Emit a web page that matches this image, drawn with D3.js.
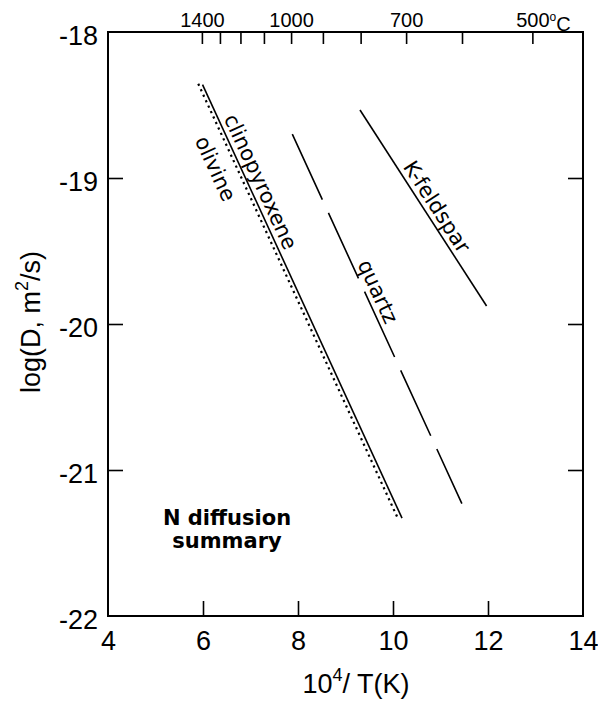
<!DOCTYPE html>
<html>
<head>
<meta charset="utf-8">
<script src="https://cdn.jsdelivr.net/npm/d3@7"></script>
<style>
  html, body { margin: 0; padding: 0; background: #fff; }
  svg { display: block; }
</style>
</head>
<body>
<svg id="chart" width="598" height="702"></svg>
<script>
// ---------------- data ----------------
const minerals   = ["clinopyroxene", "olivine", "quartz", "K-feldspar"];
const cpxX       = [5.99, 10.19];
const cpxY       = [-18.36, -21.33];
const olivineX   = [5.90, 10.10];
const olivineY   = [-18.355, -21.33];
const quartzX    = [7.88, 11.45];
const quartzY    = [-18.70, -21.23];
const kfsX       = [9.305, 11.97];
const kfsY       = [-18.534, -19.877];

const xTicks     = [4, 6, 8, 10, 12, 14];
const yTicks     = [-18, -19, -20, -21, -22];
const tempTicksC = [1400, 1300, 1200, 1100, 1000, 900, 800, 700, 600, 500];
const tempLabels = [1400, 1000, 700, 500];

// ---------------- layout ----------------
const L = 108, R = 583, T = 32, B = 616;
const x = d3.scaleLinear().domain([4, 14]).range([L, R]);
const y = d3.scaleLinear().domain([-22, -18]).range([B, T]);
const svg = d3.select("#chart");
const axisFont = "'Liberation Sans', Arial, sans-serif";
const lblFont = "'DejaVu Sans', Verdana, sans-serif";

// frame
svg.append("rect").attr("x", L).attr("y", T).attr("width", R - L).attr("height", B - T)
  .attr("fill", "none").attr("stroke", "#000").attr("stroke-width", 2);

function styleAxis(g, fs) {
  g.select(".domain").remove();
  g.selectAll(".tick line").attr("stroke", "#000").attr("stroke-width", 1.6);
  g.selectAll(".tick text").attr("font-family", axisFont).attr("font-size", fs).attr("fill", "#000");
}

// bottom axis
svg.append("g").attr("transform", `translate(0,${B})`)
  .call(d3.axisBottom(x).tickValues(xTicks).tickSize(-15).tickPadding(15).tickFormat(d => String(d)))
  .call(g => styleAxis(g, 27))
  .call(g => g.selectAll(".tick").filter(d => d === 4 || d === 14).select("line").remove());

// left axis
svg.append("g").attr("transform", `translate(${L},0)`)
  .call(d3.axisLeft(y).tickValues(yTicks).tickSize(-15).tickPadding(10).tickFormat(d => String(d)))
  .call(g => styleAxis(g, 27))
  .call(g => g.selectAll(".tick text").attr("dy", "0.45em"))
  .call(g => g.selectAll(".tick").filter(d => d === -18 || d === -22).select("line").remove());

// right axis (ticks only)
svg.append("g").attr("transform", `translate(${R},0)`)
  .call(d3.axisRight(y).tickValues([-19, -20, -21]).tickSize(-15).tickFormat(""))
  .call(g => styleAxis(g, 27));

// top axis: temperature in °C
const cToX = c => 1e4 / (c + 273.15);
const topAxis = svg.append("g").attr("transform", `translate(0,${T})`)
  .call(d3.axisTop(x).tickValues(tempTicksC.map(cToX)).tickSize(-12).tickPadding(5)
    .tickFormat((d, i) => tempLabels.includes(tempTicksC[i]) ? String(tempTicksC[i]) : ""))
  .call(g => styleAxis(g, 20));
// add °C after 500
topAxis.selectAll(".tick text").filter(function () { return this.textContent === "500"; })
  .each(function () {
    const t = d3.select(this);
    const w = this.getComputedTextLength();
    t.attr("text-anchor", "start").attr("x", -w / 2);
    t.append("tspan").attr("font-size", 12).attr("dy", "-0.5em").text("o");
    t.append("tspan").attr("dy", "0.5em").text("C");
  });

// axis titles
const xt = svg.append("text").attr("x", 356).attr("y", 693).attr("text-anchor", "middle")
  .attr("font-family", axisFont).attr("font-size", 27).attr("fill", "#000");
xt.append("tspan").text("10");
xt.append("tspan").attr("font-size", 18).attr("dy", -12).text("4");
xt.append("tspan").attr("dy", 12).text("/ T(K)");

const yt = svg.append("text").attr("transform", `translate(40,322) rotate(-90)`)
  .attr("text-anchor", "middle").attr("font-family", axisFont).attr("font-size", 27).attr("fill", "#000");
yt.append("tspan").text("log(D, m");
yt.append("tspan").attr("font-size", 18).attr("dy", -12).text("2");
yt.append("tspan").attr("dy", 12).text("/s)");

// ---------------- lines ----------------
const series = [
  { name: minerals[0], xs: cpxX, ys: cpxY, dash: null, w: 1.6, labX: 6.98, off: 12 },
  { name: minerals[1], xs: olivineX, ys: olivineY, dash: "2.2,3.8", w: 2.2, labX: 6.64, off: -20 },
  { name: minerals[2], xs: quartzX, ys: quartzY, dash: "72,14.6", w: 1.6, labX: 9.45, off: 12 },
  { name: minerals[3], xs: kfsX, ys: kfsY, dash: null, w: 1.6, labX: 10.71, off: 12 }
];
const line = d3.line().x(d => x(d[0])).y(d => y(d[1]));
series.forEach(s => {
  const pts = s.xs.map((v, i) => [v, s.ys[i]]);
  svg.append("path").datum(pts).attr("d", line).attr("fill", "none")
    .attr("stroke", "#000").attr("stroke-width", s.w)
    .attr("stroke-dasharray", s.dash);
  // label along line
  const px0 = x(s.xs[0]), py0 = y(s.ys[0]), px1 = x(s.xs[1]), py1 = y(s.ys[1]);
  const ang = Math.atan2(py1 - py0, px1 - px0);
  const t = (s.labX - s.xs[0]) / (s.xs[1] - s.xs[0]);
  const lx = px0 + t * (px1 - px0), ly = py0 + t * (py1 - py0);
  const ux = Math.sin(ang), uy = -Math.cos(ang);
  svg.append("text")
    .attr("transform", `translate(${lx + ux * s.off},${ly + uy * s.off}) rotate(${ang * 180 / Math.PI})`)
    .attr("text-anchor", "middle").attr("dominant-baseline", "central")
    .attr("font-family", lblFont).attr("font-size", 21).attr("fill", "#000")
    .text(s.name);
});

// annotation
const ann = svg.append("text").attr("text-anchor", "middle")
  .attr("font-family", lblFont).attr("font-weight", "bold").attr("font-size", 21).attr("fill", "#000");
ann.append("tspan").attr("x", 227).attr("y", 525).text("N diffusion");
ann.append("tspan").attr("x", 227).attr("y", 548).text("summary");
</script>
</body>
</html>
